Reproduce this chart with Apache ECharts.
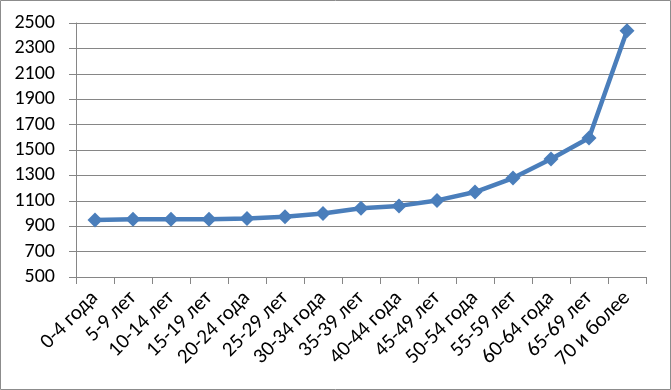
<!DOCTYPE html>
<html><head><meta charset="utf-8">
<script src="https://cdn.jsdelivr.net/npm/echarts@6/dist/echarts.min.js"></script>
<style>html,body{margin:0;padding:0;background:#fff}#c{width:671px;height:390px}</style>
</head><body><div id="c"></div>
<script>
const categories = ['0-4 года','5-9 лет','10-14 лет','15-19 лет','20-24 года','25-29 лет','30-34 года','35-39 лет','40-44 года','45-49 лет','50-54 года','55-59 лет','60-64 года','65-69 лет','70 и более'];
const values = [948, 955, 955, 955, 960, 974, 1000, 1042, 1060, 1103, 1169, 1279, 1429, 1595, 2439];
const yMin = 500, yMax = 2500, yStep = 200;

const FONT = "Carlito, 'Liberation Sans Narrow', 'Liberation Sans', sans-serif";
const chart = echarts.init(document.getElementById('c'), null, {renderer:'canvas'});
chart.setOption({
  animation:false,
  graphic:[{type:'rect',shape:{x:0.5,y:0.5,width:670,height:389},style:{fill:'none',stroke:'#8c8c8c',lineWidth:1},silent:true}],
  grid:{left:76,right:25,top:23,bottom:113,containLabel:false},
  xAxis:{type:'category',data:categories,boundaryGap:true,
    axisLine:{lineStyle:{color:'#868686',width:1}},
    axisTick:{show:true,alignWithLabel:false,length:7,lineStyle:{color:'#868686'}},
    axisLabel:{rotate:45,interval:0,margin:18,color:'#000',fontFamily:FONT,fontSize:21}},
  yAxis:{type:'value',min:yMin,max:yMax,interval:yStep,
    axisLine:{show:true,lineStyle:{color:'#868686',width:1}},
    axisTick:{show:true,length:7,lineStyle:{color:'#868686'}},
    splitLine:{lineStyle:{color:'#868686',width:1}},
    axisLabel:{margin:21,color:'#000',fontFamily:FONT,fontSize:20,formatter:v=>String(v)}},
  series:[{type:'line',data:values,symbol:'diamond',symbolSize:15,
    lineStyle:{color:'#4a7ebb',width:4.5},itemStyle:{color:'#4a7ebb'}}]
});
</script></body></html>
